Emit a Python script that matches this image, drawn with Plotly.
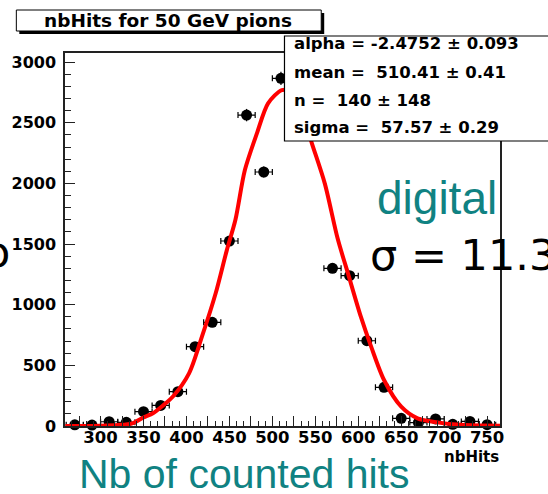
import plotly.graph_objects as go

# ---- data ----
bin_centers = [270, 290, 310, 330, 350, 370, 390, 410, 430, 450, 470, 490, 510,
               570, 590, 610, 630, 650, 670, 690, 710, 730, 750]
counts = [10, 8, 35, 30, 118, 170, 283, 654, 855, 1525, 2563, 2094, 2866,
          1300, 1239, 703, 319, 63, 28, 58, 14, 38, 11]
count_err = [3, 3, 6, 5, 11, 13, 17, 26, 29, 39, 51, 46, 54,
             36, 35, 27, 18, 8, 5, 8, 4, 6, 3]
bin_half_width = [10] * len(bin_centers)

curve_x = [259, 300, 320, 337, 350, 361, 372, 384, 403, 418, 434, 447, 457, 468,
           482, 495, 511, 522, 534, 546, 561, 576, 588, 603, 615, 630, 650, 669,
           692, 720, 765]
curve_y = [0, 3, 8, 22, 70, 105, 165, 241, 434, 736, 1094, 1450, 1700, 2110,
           2412, 2660, 2769, 2760, 2600, 2330, 2000, 1545, 1258, 901, 654, 379,
           159, 63, 30, 10, 2]

x_tick_vals = [275, 300, 325, 350, 375, 400, 425, 450, 475, 500, 525, 550, 575,
               600, 625, 650, 675, 700, 725, 750]
x_tick_text = ["", "300", "", "350", "", "400", "", "450", "", "500", "", "550", "",
               "600", "", "650", "", "700", "", "750"]
y_tick_vals = [0, 500, 1000, 1500, 2000, 2500, 3000]

title_text = "nbHits for 50 GeV pions"
stats_lines = ["alpha = -2.4752 ± 0.093",
               "mean =  510.41 ± 0.41",
               "n =  140 ± 148",
               "sigma =  57.57 ± 0.29"]

# ---- layout geometry (pixels) ----
W, H = 548, 494
PL, PR, PT, PB = 62, 500, 53, 426


def px(x):
    return (x - PL) / (PR - PL)


def py(y):
    return (PB - y) / (PB - PT)


TEAL = "#108282"
BOLD = dict(family="DejaVu Sans", weight="bold", color="black")

fig = go.Figure()

fig.add_trace(go.Scatter(
    x=bin_centers, y=counts, mode="markers",
    marker=dict(symbol="circle", size=11, color="black"),
    error_x=dict(type="data", array=bin_half_width, color="black", thickness=1.2, width=3),
    error_y=dict(type="data", array=count_err, color="black", thickness=1.2, width=0),
    cliponaxis=False, showlegend=False,
))

fig.add_trace(go.Scatter(
    x=curve_x, y=curve_y, mode="lines",
    line=dict(color="#ff0000", width=4, shape="spline", smoothing=0.8),
    showlegend=False,
))

shapes = []
# title box with shadow
shapes.append(dict(type="rect", xref="paper", yref="paper",
                   x0=px(16), x1=px(323), y0=py(34), y1=py(13),
                   fillcolor="black", line=dict(width=0), layer="above"))
shapes.append(dict(type="rect", xref="paper", yref="paper",
                   x0=px(13), x1=px(320), y0=py(31), y1=py(10),
                   fillcolor="white", line=dict(color="black", width=1), layer="above"))
# stats box
shapes.append(dict(type="rect", xref="paper", yref="paper",
                   x0=px(283), x1=px(560), y0=py(141), y1=py(36),
                   fillcolor="white", line=dict(color="black", width=1.2), layer="above"))
fig.update_layout(shapes=shapes)

ann = []
ann.append(dict(text=title_text, xref="paper", yref="paper",
                x=px(166), y=py(20.5), xanchor="center", yanchor="middle",
                showarrow=False, font=dict(size=18.5, **BOLD)))
for line, yy in zip(stats_lines, [43.5, 72, 100, 127]):
    ann.append(dict(text=line, xref="paper", yref="paper",
                    x=px(291), y=py(yy), xanchor="left", yanchor="middle",
                    showarrow=False, font=dict(size=16.5, **BOLD)))
ann.append(dict(text="nbHits", xref="paper", yref="paper",
                x=px(501), y=py(457), xanchor="right", yanchor="middle",
                showarrow=False, font=dict(size=15, **BOLD)))
ann.append(dict(text="digital", xref="paper", yref="paper",
                x=px(374), y=py(198), xanchor="left", yanchor="middle",
                showarrow=False, font=dict(size=46, family="Liberation Sans", color=TEAL)))
ann.append(dict(text="σ = 11.3", xref="paper", yref="paper",
                x=px(367), y=py(255), xanchor="left", yanchor="middle",
                showarrow=False, font=dict(size=43, family="DejaVu Sans", color="black")))
ann.append(dict(text="o", xref="paper", yref="paper",
                x=px(9), y=py(252), xanchor="right", yanchor="middle",
                showarrow=False, font=dict(size=43, family="DejaVu Sans", color="black")))
ann.append(dict(text="Nb of counted hits", xref="paper", yref="paper",
                x=px(74), y=py(474), xanchor="left", yanchor="middle",
                showarrow=False, font=dict(size=41, family="Liberation Sans", color=TEAL)))
fig.update_layout(annotations=ann)

fig.update_xaxes(
    range=[258.6, 765], showgrid=False, zeroline=False,
    showline=True, linecolor="#222", linewidth=1.5, mirror=True,
    ticks="inside", ticklen=10, tickwidth=1.2, tickcolor="#222",
    tickmode="array", tickvals=x_tick_vals, ticktext=x_tick_text,
    minor=dict(ticks="inside", ticklen=5, tickwidth=1, tickcolor="#222",
               tickmode="linear", tick0=275, dtick=25 / 3),
    tickfont=dict(size=16.5, **BOLD), ticklabelstandoff=-5,
)
fig.update_yaxes(
    range=[0, 3075], showgrid=False, zeroline=False,
    showline=True, linecolor="#222", linewidth=1.5, mirror=True,
    ticks="inside", ticklen=10, tickwidth=1.2, tickcolor="#222",
    tickmode="array", tickvals=y_tick_vals,
    minor=dict(ticks="inside", ticklen=6, tickwidth=1, tickcolor="#222",
               tickmode="linear", tick0=0, dtick=100),
    tickfont=dict(size=16, **BOLD), ticklabelstandoff=4,
)

fig.update_layout(
    width=W, height=H,
    margin=dict(l=PL, r=W - PR, t=PT, b=H - PB),
    paper_bgcolor="white", plot_bgcolor="white",
    showlegend=False,
)

fig.write_html("out.html")
